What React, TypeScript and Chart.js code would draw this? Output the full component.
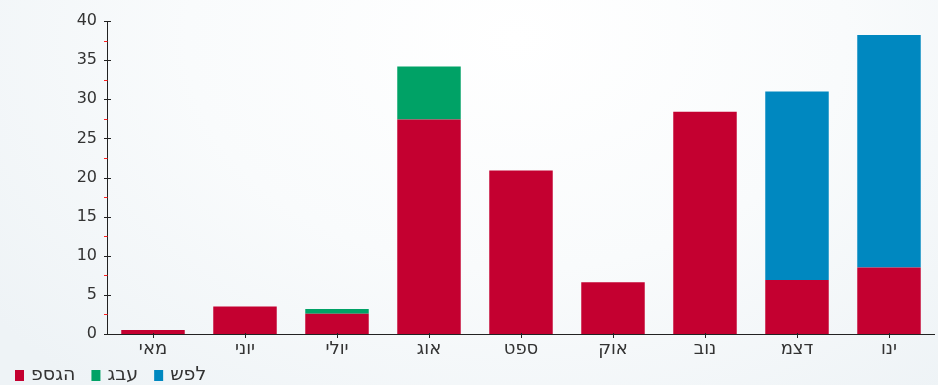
import React, { useEffect, useRef } from "react";
import { Chart, registerables } from "chart.js";

Chart.register(...registerables);

const categories = ["מאי", "יוני", "יולי", "אוג", "ספט", "אוק", "נוב", "דצמ", "ינו"];
const peakValues = [0.5, 3.5, 2.6, 27.4, 20.9, 6.6, 28.4, 6.9, 8.5];
const hillValues = [0, 0, 0.6, 6.8, 0, 0, 0, 0, 0];
const lowValues = [0, 0, 0, 0, 0, 0, 0, 24.1, 29.7];
const seriesNames = ["פסגה", "גבע", "שפל"];
const seriesColors = ["rgb(196,0,48)", "rgb(0,162,102)", "rgb(0,136,192)"];
const yTicks = [0, 5, 10, 15, 20, 25, 30, 35, 40];
const yMinorTicks = [2.5, 7.5, 12.5, 17.5, 22.5, 27.5, 32.5, 37.5];

const FONT = "'DejaVu Sans', sans-serif";

const axisPlugin = {
  id: "customAxes",
  afterDraw(chart: any) {
    const ctx = chart.ctx;
    const y = chart.scales.y;
    const x = chart.scales.x;
    const ax = chart.chartArea.left;
    const bottom = chart.chartArea.bottom;
    ctx.save();
    ctx.lineWidth = 1;
    ctx.strokeStyle = "#222";
    ctx.beginPath();
    ctx.moveTo(ax + 0.5, y.getPixelForValue(40));
    ctx.lineTo(ax + 0.5, bottom);
    ctx.stroke();
    yTicks.forEach((v) => {
      const py = Math.round(y.getPixelForValue(v)) + 0.5;
      ctx.beginPath();
      ctx.moveTo(ax - 3, py);
      ctx.lineTo(ax + 4, py);
      ctx.stroke();
    });
    ctx.strokeStyle = "#ff2020";
    yMinorTicks.forEach((v) => {
      const py = Math.round(y.getPixelForValue(v)) + 0.5;
      ctx.beginPath();
      ctx.moveTo(ax - 3, py);
      ctx.lineTo(ax + 0.5, py);
      ctx.stroke();
    });
    ctx.strokeStyle = "#222";
    ctx.beginPath();
    ctx.moveTo(ax, bottom + 0.5);
    ctx.lineTo(chart.chartArea.right, bottom + 0.5);
    ctx.stroke();
    categories.forEach((_, i) => {
      const px = Math.round(x.getPixelForValue(i)) + 0.5;
      ctx.beginPath();
      ctx.moveTo(px, bottom - 1);
      ctx.lineTo(px, bottom + 4);
      ctx.stroke();
    });

    // legend (drawn in stored character order, left to right, as in the original)
    ctx.font = "19px " + FONT;
    ctx.textBaseline = "middle";
    ctx.textAlign = "left";
    ctx.direction = "ltr";
    const ly = 375;
    let lx = 15;
    chart.data.datasets.forEach((ds: any) => {
      ctx.fillStyle = ds.backgroundColor;
      ctx.fillRect(lx, ly - 5, 9, 11);
      ctx.fillStyle = "#333";
      const txt = "\u202D" + ds.label + "\u202C";
      ctx.fillText(txt, lx + 16, ly);
      lx += 16 + ctx.measureText(txt).width + 16;
    });
    ctx.restore();
  },
};

export default function App() {
  const ref = useRef<HTMLCanvasElement | null>(null);
  useEffect(() => {
    if (!ref.current) return;
    const chart = new Chart(ref.current, {
      type: "bar",
      data: {
        labels: categories,
        datasets: [
          { label: seriesNames[0], data: peakValues, backgroundColor: seriesColors[0] },
          { label: seriesNames[1], data: hillValues, backgroundColor: seriesColors[1] },
          { label: seriesNames[2], data: lowValues, backgroundColor: seriesColors[2] },
        ],
      },
      options: {
        animation: false,
        responsive: false,
        maintainAspectRatio: false,
        layout: { padding: { top: 21, right: 3, left: 0, bottom: 0 } },
        datasets: { bar: { categoryPercentage: 1, barPercentage: 0.69 } },
        scales: {
          x: {
            stacked: true,
            afterFit: (s: any) => {
              s.height = 51;
            },
            grid: { display: false, drawTicks: false },
            border: { display: false },
            ticks: { color: "#333", font: { family: FONT, size: 18 }, padding: 5 },
          },
          y: {
            stacked: true,
            min: 0,
            max: 40,
            afterFit: (s: any) => {
              s.width = 107;
            },
            grid: { display: false, drawTicks: false },
            border: { display: false },
            ticks: {
              stepSize: 5,
              color: "#333",
              font: { family: FONT, size: 16 },
              padding: 10,
            },
          },
        },
        plugins: {
          legend: { display: false },
          tooltip: { enabled: false },
        },
      },
      plugins: [axisPlugin],
    });
    return () => chart.destroy();
  }, []);
  return (
    <div
      style={{
        position: "fixed",
        left: 0,
        top: 0,
        width: 938,
        height: 385,
        background:
          "radial-gradient(ellipse 70% 120% at 55% 10%, #ffffff 0%, #f9fbfc 50%, #eef3f6 100%)",
      }}
    >
      <canvas ref={ref} width={938} height={385} style={{ display: "block" }} />
    </div>
  );
}
